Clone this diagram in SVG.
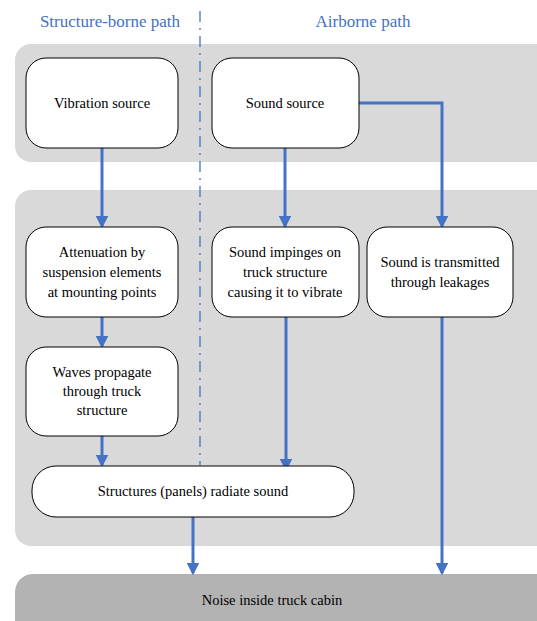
<svg xmlns="http://www.w3.org/2000/svg" width="537" height="621" viewBox="0 0 537 621">
<style>
.panel{fill:#d9d9d9}
.box{fill:#fff;stroke:#000;stroke-width:1}
.t{font-size:14.5px;fill:#000;text-anchor:middle}
.h{font-size:17px;fill:#4472c4;text-anchor:middle}
.c{fill:none;stroke:#4472c4;stroke-width:3}
</style>
<defs>
<marker id="ah" markerWidth="4.2" markerHeight="4.2" refX="3.4" refY="2.1" orient="auto" markerUnits="strokeWidth">
<path d="M0,0 L4.2,2.1 L0,4.2 z" fill="#4472c4"/>
</marker>
</defs>
<rect class="panel" x="15" y="44" width="540" height="118" rx="16"/>
<rect class="panel" x="15" y="190" width="540" height="356" rx="16"/>
<rect x="15" y="574" width="540" height="70" rx="18" fill="#b3b3b3"/>
<g font-family="Liberation Serif, Times New Roman, serif">
<text class="h" x="110" y="27">Structure-borne path</text>
<text class="h" x="363" y="27">Airborne path</text>
</g>
<line x1="200" y1="11" x2="200" y2="465" stroke="#4472c4" stroke-width="1.3" stroke-dasharray="11 6 2 6"/>
<g id="connectors">
<path class="c" d="M102,148 V226" marker-end="url(#ah)"/>
<path class="c" d="M285,148 V226" marker-end="url(#ah)"/>
<path class="c" d="M359,103 H442 V226" marker-end="url(#ah)"/>
<path class="c" d="M102,317 V346" marker-end="url(#ah)"/>
<path class="c" d="M102,436 V465" marker-end="url(#ah)"/>
<path class="c" d="M286,317 V469" marker-end="url(#ah)"/>
<path class="c" d="M442,317 V573" marker-end="url(#ah)"/>
<path class="c" d="M193,517 V573" marker-end="url(#ah)"/>
</g>
<g font-family="Liberation Serif, Times New Roman, serif">
<g id="vibration"><rect class="box" x="26" y="58" width="152" height="90" rx="20"/><text class="t" x="102" y="108">Vibration source</text></g>
<g id="sound"><rect class="box" x="212" y="58" width="147" height="90" rx="20"/><text class="t" x="285" y="108">Sound source</text></g>
<g id="attenuation"><rect class="box" x="26" y="227" width="152" height="90" rx="20"/><text class="t" x="102" y="257">Attenuation by</text><text class="t" x="102" y="277">suspension elements</text><text class="t" x="102" y="297">at mounting points</text></g>
<g id="impinges"><rect class="box" x="212" y="227" width="147" height="90" rx="20"/><text class="t" x="285" y="257">Sound impinges on</text><text class="t" x="285" y="277">truck structure</text><text class="t" x="285" y="297">causing it to vibrate</text></g>
<g id="leakages"><rect class="box" x="367" y="227" width="146" height="90" rx="20"/><text class="t" x="440" y="267">Sound is transmitted</text><text class="t" x="440" y="287">through leakages</text></g>
<g id="waves"><rect class="box" x="26" y="347" width="152" height="89" rx="20"/><text class="t" x="102" y="377">Waves propagate</text><text class="t" x="102" y="396">through truck</text><text class="t" x="102" y="415">structure</text></g>
<g id="radiate"><rect class="box" x="32" y="466" width="322" height="51" rx="24"/><text class="t" x="193" y="496">Structures (panels) radiate sound</text></g>
<g id="cabin"><text class="t" x="272" y="605">Noise inside truck cabin</text></g>
</g>
</svg>
